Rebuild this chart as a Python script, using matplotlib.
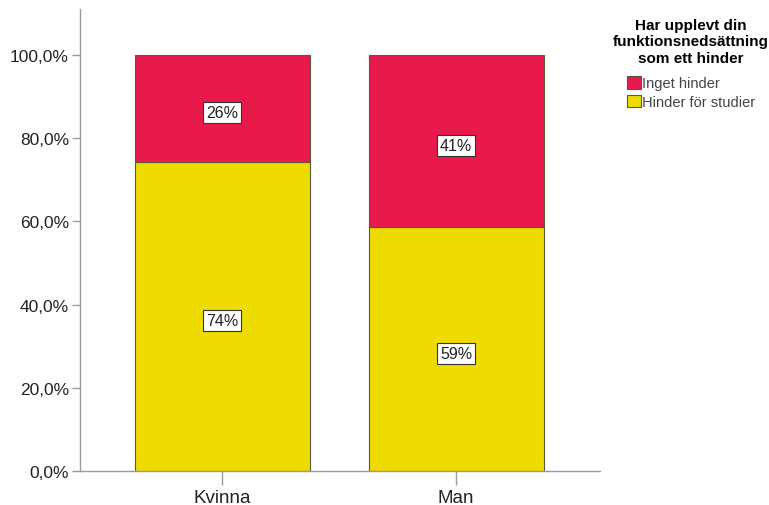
import matplotlib
matplotlib.use("Agg")
import matplotlib.pyplot as plt
from matplotlib.patches import Patch

plt.rcParams['font.family'] = ['Liberation Sans', 'DejaVu Sans']

categories = ["Kvinna", "Man"]
hinder_studier = [74.2, 58.6]
inget_hinder = [25.8, 41.4]
yticks = [0, 20, 40, 60, 80, 100]
ytick_labels = ["0,0%", "20,0%", "40,0%", "60,0%", "80,0%", "100,0%"]
legend_title = "Har upplevt din\nfunktionsnedsättning\nsom ett hinder"
series_names = ["Inget hinder", "Hinder för studier"]

red = "#E8194B"
yellow = "#EEDC00"
edge = "#5a5a3a"
axis_col = "#9a9a9a"

fig = plt.figure(figsize=(7.69, 5.06), dpi=100)
ax = fig.add_axes([80/769, 34/506, 520/769, 462/506])

x = list(range(len(categories)))
w = 0.748
ax.bar(x, hinder_studier, width=w, color=yellow, edgecolor=edge, linewidth=0.8)
ax.bar(x, inget_hinder, width=w, bottom=hinder_studier, color=red, edgecolor=edge, linewidth=0.8)

box = dict(boxstyle="square,pad=0.18", facecolor="white", edgecolor="#333333", linewidth=0.8)
for i in x:
    ax.text(i, hinder_studier[i] / 2 - 1, f"{round(hinder_studier[i])}%", ha="center", va="center",
            fontsize=11.5, color="#222222", bbox=box)
    ax.text(i, hinder_studier[i] + inget_hinder[i] / 2 - 1, f"{round(inget_hinder[i])}%", ha="center",
            va="center", fontsize=11.5, color="#222222", bbox=box)

ax.set_xlim(-0.607, 1.615)
ax.set_ylim(0, 111.06)
ax.set_yticks(yticks)
ax.set_yticklabels(ytick_labels)
ax.set_xticks(x)
ax.set_xticklabels(categories)
ax.tick_params(axis="y", length=6, width=1, color=axis_col, labelsize=12.5, labelcolor="#222222", pad=2)
ax.tick_params(axis="x", length=10, width=1, color=axis_col, labelsize=13.5, labelcolor="#222222", pad=3)
for s in ["top", "right"]:
    ax.spines[s].set_visible(False)
for s in ["left", "bottom"]:
    ax.spines[s].set_color(axis_col)
    ax.spines[s].set_linewidth(1)

handles = [Patch(facecolor=red, edgecolor=edge, linewidth=0.8),
           Patch(facecolor=yellow, edgecolor=edge, linewidth=0.8)]
leg = fig.legend(handles, series_names, title=legend_title, loc="upper center",
                 bbox_to_anchor=(691/769, 1 - 19/506), frameon=False, fontsize=10.5,
                 title_fontproperties={"weight": "bold", "size": 11},
                 handlelength=0.95, handleheight=0.95, handletextpad=0.1, labelspacing=0.3,
                 borderaxespad=0, borderpad=0)
leg.get_title().set_multialignment("center")
leg.get_title().set_linespacing(1.22)
for t in leg.get_texts():
    t.set_color("#444444")
leg._legend_box.align = "center"
leg._legend_box.sep = 8

fig.savefig("out.png", dpi=100)
